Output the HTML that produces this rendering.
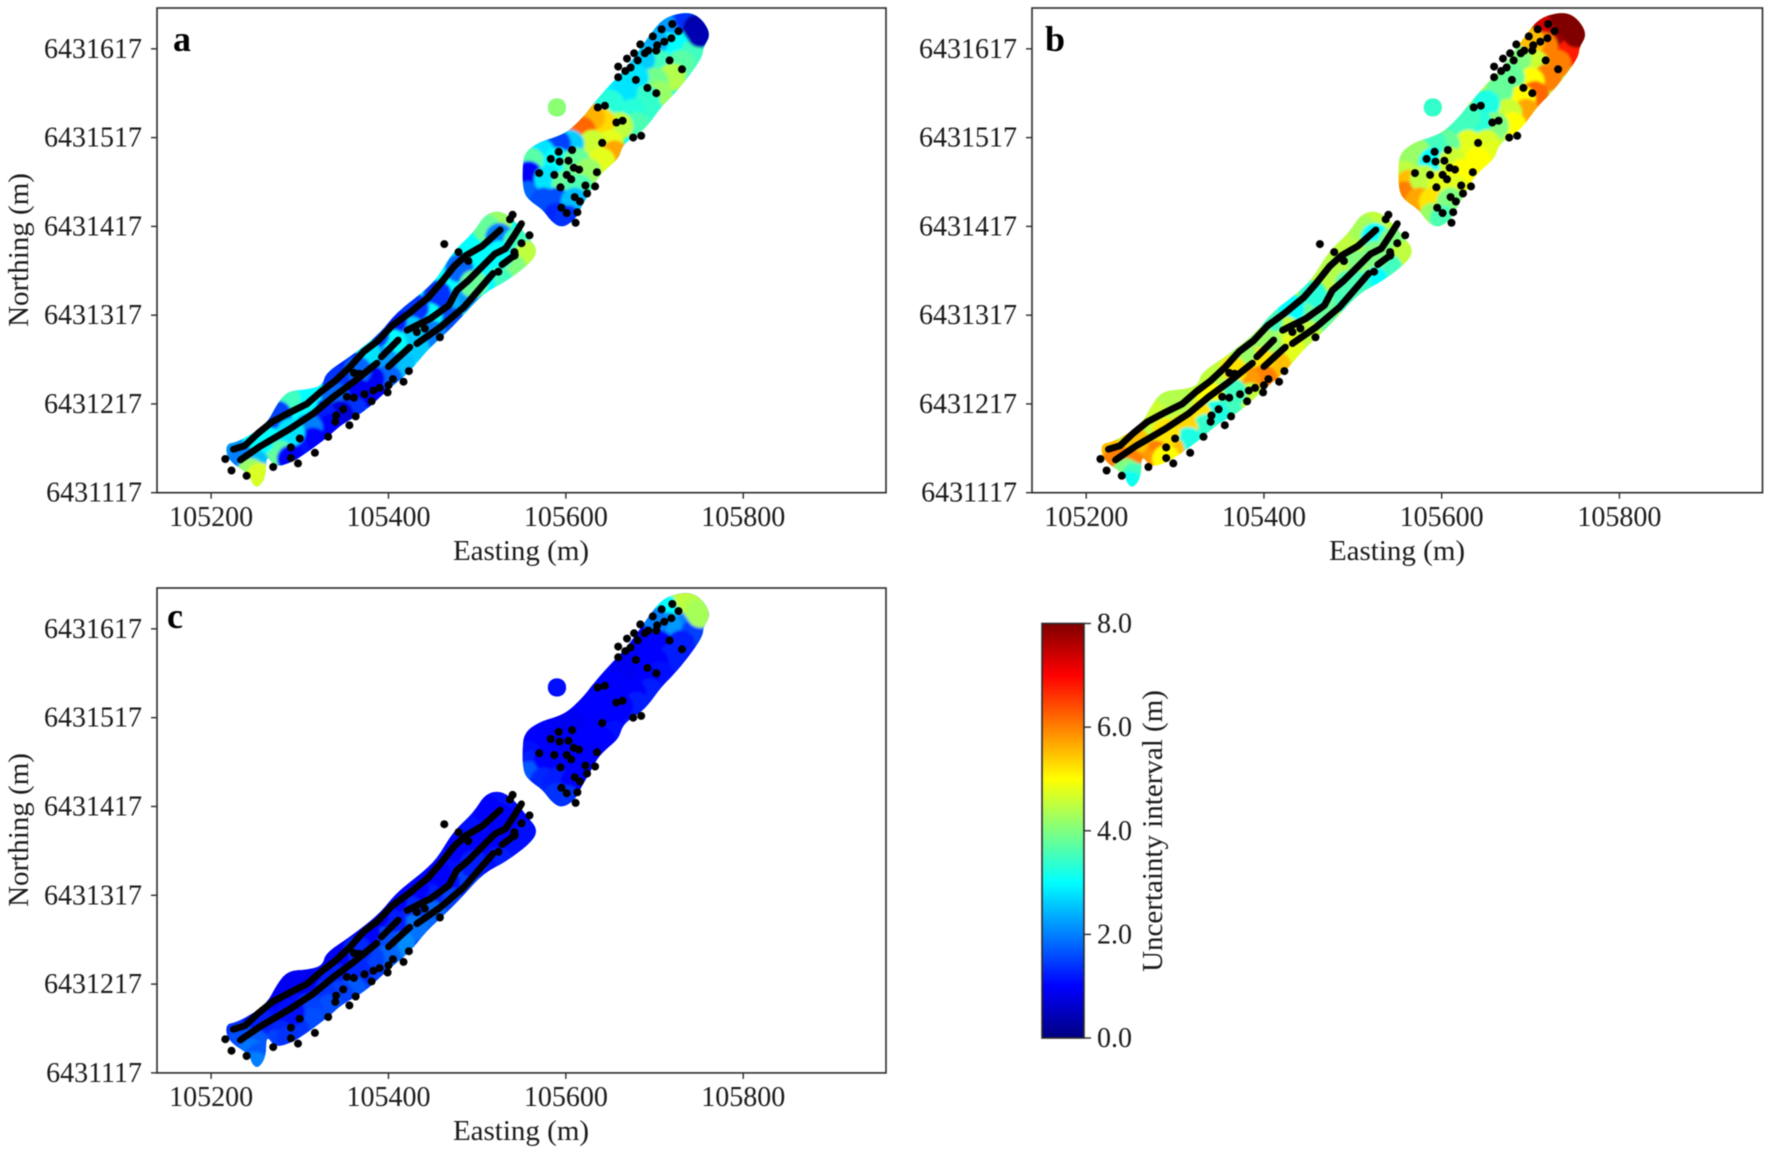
<!DOCTYPE html>
<html lang="en">
<head>
<meta charset="utf-8">
<title>Uncertainty interval maps</title>
<style>
html,body{margin:0;padding:0;background:#fff;width:1770px;height:1154px;overflow:hidden}
svg{display:block;filter:blur(0.6px)}
text{font-family:"Liberation Serif",serif;fill:#1a1a1a;font-size:28px}
</style>
</head>
<body>
<svg id="figure" xmlns="http://www.w3.org/2000/svg" width="1770" height="1154" viewBox="0 0 1770 1154">
<defs>
<filter id="soft" x="-5%" y="-5%" width="110%" height="110%"><feGaussianBlur stdDeviation="1.3"/></filter>
<linearGradient id="jetGradient" x1="0" y1="1" x2="0" y2="0"></linearGradient>
</defs>
</svg>
<script>
// Axis domains and tick labels
const xDomain = [105139, 105961];
const yDomain = [6431117, 6431663];
const xTicks = [105200, 105400, 105600, 105800];
const yTicks = [6431117, 6431217, 6431317, 6431417, 6431517, 6431617];
const colorbarTicks = [0, 2, 4, 6, 8];
const colorDomain = [0, 8];
const panelLetters = ['a', 'b', 'c'];
const baseValues = [3, 4.5, 1.1];

// Survey footprint outlines [easting, northing]
const southFootprint = [[105253,6431122],[105262,6431135],[105262,6431160],[105272,6431146],[105288,6431150],[105302,6431158],[105331,6431179],[105347,6431194],[105373,6431208],[105398,6431232],[105424,6431253],[105443,6431277],[105462,6431294],[105482,6431314],[105507,6431342],[105533,6431355],[105563,6431378],[105568,6431392],[105556,6431406],[105544,6431422],[105527,6431435],[105509,6431431],[105496,6431410],[105473,6431389],[105454,6431357],[105435,6431340],[105409,6431320],[105390,6431296],[105358,6431271],[105329,6431252],[105326,6431238],[105308,6431233],[105287,6431232],[105275,6431218],[105262,6431193],[105230,6431174],[105216,6431172],[105219,6431153],[105243,6431138],[105246,6431127]];
const northFootprint = [[105731,6431658],[105746,6431656],[105757,6431646],[105763,6431632],[105755,6431619],[105754,6431608],[105738,6431585],[105722,6431566],[105707,6431551],[105692,6431530],[105681,6431521],[105664,6431509],[105660,6431494],[105647,6431483],[105636,6431472],[105628,6431457],[105617,6431438],[105610,6431424],[105595,6431415],[105583,6431423],[105574,6431436],[105559,6431446],[105552,6431456],[105551,6431480],[105553,6431500],[105570,6431512],[105590,6431518],[105604,6431525],[105621,6431542],[105630,6431554],[105649,6431576],[105664,6431591],[105679,6431610],[105694,6431632],[105709,6431651]];
const islandFootprint = [[105590,6431562],[105598,6431559],[105601,6431551],[105598,6431543],[105590,6431540],[105582,6431543],[105579,6431551],[105582,6431559]];

// Uncertainty field samples
const fieldLocations = [
[105755,6431628],[105728,6431648],[105712,6431640],[105735,6431620],[105745,6431612],[105715,6431620],[105700,6431625],[105730,6431600],[105705,6431600],
[105685,6431605],[105720,6431585],[105700,6431580],[105678,6431585],[105705,6431565],[105690,6431560],[105665,6431570],[105695,6431545],[105675,6431545],[105650,6431555],
[105680,6431530],[105660,6431530],[105640,6431535],[105628,6431540],[105618,6431525],[105650,6431510],[105630,6431510],[105655,6431498],[105640,6431490],[105605,6431510],
[105590,6431510],[105572,6431500],[105560,6431490],[105590,6431490],[105612,6431490],[105625,6431478],[105558,6431475],[105563,6431465],[105558,6431452],[105580,6431470],
[105600,6431465],[105615,6431460],[105575,6431445],[105590,6431445],[105610,6431445],[105590,6431428],[105602,6431425],[105590,6431551],
[105525,6431425],[105510,6431415],[105525,6431405],[105545,6431400],[105558,6431385],[105540,6431370],[105525,6431385],[105500,6431375],[105525,6431355],[105505,6431350],
[105480,6431370],[105490,6431335],[105496,6431352],[105465,6431330],[105455,6431340],[105470,6431310],[105445,6431315],[105430,6431325],[105450,6431295],[105425,6431300],
[105405,6431310],[105430,6431280],[105405,6431285],[105385,6431295],[105415,6431260],[105395,6431265],[105375,6431275],[105355,6431262],[105400,6431245],[105380,6431245],
[105365,6431255],[105340,6431245],[105385,6431225],[105365,6431230],[105340,6431225],[105360,6431210],[105345,6431205],[105325,6431205],[105335,6431190],[105310,6431190],
[105315,6431175],[105295,6431165],[105305,6431222],[105285,6431222],[105275,6431205],[105290,6431185],[105278,6431160],[105270,6431150],[105290,6431155],[105255,6431175],
[105225,6431165],[105235,6431155],[105250,6431150],[105245,6431140],[105255,6431135],[105250,6431125],
[105738,6431652],[105748,6431640],[105752,6431634]
];
const uncertaintyA = [
1.2,1.6,2.2,3,3.5,3,2.4,3.7,3.5,
2.6,4.4,3.9,2.8,4.2,3.4,2.8,3.4,3.3,3.3,
3.6,4.5,5.3,5.6,6.2,4.8,4.6,5.7,4.8,2.6,
1.5,2.8,3.7,3,3.8,4.2,1,0.9,1.8,2.8,
3.8,3.6,1.6,1.6,2.5,1.3,1.4,4.1,
4.2,3.8,2,3.5,4.5,4,3,3,3.5,3,
1.8,2.2,3.8,2.4,1.4,1.6,3,1.4,2,2.6,
1.2,2.6,3,1.5,2.5,2.2,2.8,1.2,1.8,0.9,
1.8,1.4,1,0.9,1.8,1.4,0.7,1.2,1,2,
1,1.1,3,3.5,1.5,2.8,3.7,3.8,1,3,
2.2,2,2.5,4.2,4.7,4.7,
1.4,0.3,0.4
];
const uncertaintyB = [
8,8,7.4,7.8,6.8,6,5.5,6,4.6,
4,6,5,3.8,6.2,5,3.8,5.7,4.6,3.2,
5,4,3.3,3.5,3.5,4.7,4.8,4.8,5,3.8,
3.5,4.2,4.2,3,4.6,5,4.5,5.5,6,4.5,
4.8,4.8,5.7,5.2,4,4.2,3.6,3.4,
4.5,4.3,3,4,4.5,3.5,4,4,3,3.4,
4.4,3.5,3.6,3.8,3.3,3.8,3.8,3,4.5,4.5,
3.5,4.8,4.2,4.2,5.5,5.2,4.2,4.5,6,5.8,
5.2,4.5,4.5,3.5,5,3.5,3.2,5.2,3.4,5.3,
3.2,5.5,4.4,4.4,4.6,5.2,6,5.8,5,5.5,
5.5,6,6,4,3.5,3.1,
8,8,8
];
const uncertaintyC = [
3.2,4.5,3,2,1.5,2.2,2,1.2,1,
1,1.2,1,1,1.1,1,0.9,1.2,1,1,
1.2,1,1,1,1,1,1,1.1,1,0.9,
0.9,1,1,0.9,1,1,1.1,1.2,1.7,1,
1,1,1.3,1.2,1,1.4,1.4,1.1,
1.1,1,1,1,1.1,1.1,1,1,1.2,1.1,
1,1.5,1.2,1.1,1,1.5,1.2,1,1.8,1.3,
1,1.9,1.2,0.9,2.1,1.6,1,0.9,1.8,1.5,
1.3,0.9,1.5,1.3,1.2,1.7,1.5,1.4,1.6,1.5,
1.6,1.4,0.9,0.9,0.9,1.1,1.3,1.5,1.4,1.2,
1.4,1.6,1.7,1.9,1.7,2,
4.5,4.4,4.3
];

// Dense survey tracks [easting, northing]
const trackUpper = [[105225,6431166],[105238,6431170],[105253,6431184],[105269,6431197],[105288,6431207],[105308,6431217],[105324,6431231],[105340,6431243],[105356,6431258],[105372,6431276],[105388,6431288],[105404,6431305],[105423,6431319],[105445,6431337],[105458,6431352],[105474,6431372],[105487,6431384],[105506,6431395],[105526,6431413]];
const trackMiddleLower = [[105233,6431154],[105255,6431169],[105289,6431189],[105315,6431206],[105338,6431225],[105361,6431242],[105387,6431263]];
const trackMiddleCentre = [[105392,6431270],[105411,6431289]];
const trackMiddleUpper = [[105421,6431300],[105447,6431313],[105468,6431328],[105477,6431345],[105490,6431356],[105520,6431386],[105532,6431392],[105542,6431407],[105550,6431420]];
const trackLowerA = [[105400,6431259],[105424,6431281]];
const trackLowerB = [[105432,6431285],[105458,6431303],[105485,6431326],[105511,6431356],[105518,6431364]];
const trackLowerC = [[105528,6431374],[105543,6431385]];
const surveyTracks = [trackUpper, trackMiddleLower, trackMiddleCentre, trackMiddleUpper, trackLowerA, trackLowerB, trackLowerC];

// Individual survey points [easting, northing]
const surveyPoints = [
[105720,6431645],[105708,6431639],[105727,6431637],[105698,6431631],[105719,6431629],[105711,6431625],[105703,6431621],[105684,6431622],[105702,6431615],[105693,6431615],
[105689,6431612],[105677,6431612],[105681,6431604],[105669,6431606],[105717,6431604],[105731,6431594],[105659,6431597],[105673,6431596],[105667,6431592],[105659,6431585],
[105679,6431582],[105692,6431573],[105702,6431567],[105644,6431553],[105636,6431551],[105664,6431536],[105657,6431534],[105685,6431519],[105676,6431517],[105641,6431511],
[105607,6431503],[105592,6431501],[105583,6431493],[105593,6431490],[105603,6431491],[105609,6431483],[105615,6431481],[105635,6431478],[105570,6431477],[105587,6431475],
[105601,6431475],[105606,6431470],[105622,6431463],[105633,6431462],[105594,6431461],[105624,6431454],[105610,6431450],[105616,6431445],[105595,6431438],[105601,6431432],
[105613,6431433],[105611,6431421],
[105540,6431430],[105537,6431425],[105559,6431407],[105463,6431397],[105479,6431388],[105490,6431378],[105542,6431384],[105542,6431388],[105550,6431398],[105524,6431366],
[105216,6431155],[105223,6431142],[105240,6431136],[105270,6431146],[105298,6431150],[105290,6431156],[105317,6431162],[105290,6431168],[105300,6431178],[105332,6431180],
[105356,6431193],[105363,6431203],[105340,6431197],[105341,6431204],[105349,6431211],[105381,6431220],[105353,6431225],[105361,6431224],[105373,6431228],[105383,6431232],
[105390,6431235],[105399,6431230],[105400,6431238],[105417,6431242],[105405,6431245],[105423,6431254],[105361,6431252],[105367,6431251],[105432,6431298],[105441,6431302],
[105458,6431292]
];

const svg = document.getElementById('figure');
const NS = 'http://www.w3.org/2000/svg';
function make(tag, attrs, parent) {
  const node = document.createElementNS(NS, tag);
  for (const key in attrs) node.setAttribute(key, attrs[key]);
  parent.appendChild(node);
  return node;
}
function jet(t) {
  const c = v => Math.round(255 * Math.max(0, Math.min(1, v)));
  return 'rgb(' + c(1.5 - Math.abs(4 * t - 3)) + ',' + c(1.5 - Math.abs(4 * t - 2)) + ',' + c(1.5 - Math.abs(4 * t - 1)) + ')';
}
function colorOf(v) {
  return jet((v - colorDomain[0]) / (colorDomain[1] - colorDomain[0]));
}

const gradient = document.getElementById('jetGradient');
for (let i = 0; i <= 32; i++) {
  make('stop', { offset: i / 32, 'stop-color': jet(i / 32) }, gradient);
}

const panels = [
  { id: 'a', left: 157, top: 8, width: 729, height: 484.7, values: uncertaintyA, letterX: 173, letterY: 51, tickBase: 526, labelY: 560, labelX: 521, northing: true },
  { id: 'b', left: 1032, top: 8, width: 730.5, height: 484.7, values: uncertaintyB, letterX: 1045, letterY: 51, tickBase: 526, labelY: 560, labelX: 1397, northing: false },
  { id: 'c', left: 157, top: 588, width: 729, height: 484.9, values: uncertaintyC, letterX: 167, letterY: 628, tickBase: 1106, labelY: 1140, labelX: 521, northing: true }
];

panels.forEach(function (p, index) {
  const xScale = e => p.left + (e - xDomain[0]) / (xDomain[1] - xDomain[0]) * p.width;
  const yScale = n => p.top + p.height - (n - yDomain[0]) / (yDomain[1] - yDomain[0]) * p.height;
  const toPoints = list => list.map(q => xScale(q[0]).toFixed(1) + ',' + yScale(q[1]).toFixed(1)).join(' ');
  // closed smooth outline running through the midpoints of the footprint edges
  function smoothOutline(list) {
    const px = list.map(q => [xScale(q[0]), yScale(q[1])]);
    const mid = (u, v) => [(u[0] + v[0]) / 2, (u[1] + v[1]) / 2];
    const start = mid(px[px.length - 1], px[0]);
    let d = 'M' + start[0].toFixed(1) + ' ' + start[1].toFixed(1);
    px.forEach(function (pt, i) {
      const m = mid(pt, px[(i + 1) % px.length]);
      d += 'Q' + pt[0].toFixed(1) + ' ' + pt[1].toFixed(1) + ' ' + m[0].toFixed(1) + ' ' + m[1].toFixed(1);
    });
    return d + 'Z';
  }

  const panel = make('g', {}, svg);
  
  

  const frameBg = make('rect', { x: p.left, y: p.top, width: p.width, height: p.height, fill: '#fff' }, panel);
  
  

  const defs = svg.querySelector('defs');
  const clip = make('clipPath', { id: 'footprint-' + p.id }, defs);
  [southFootprint, northFootprint, islandFootprint].forEach(function (shape) {
    make('path', { d: smoothOutline(shape) }, clip);
  });

  const field = make('g', { 'clip-path': 'url(#footprint-' + p.id + ')' }, panel);
  
  
  const base = make('rect', { x: p.left, y: p.top, width: p.width, height: p.height, fill: colorOf(baseValues[index]) }, field);
  
  
  const cells = make('g', { filter: 'url(#soft)' }, field);
  fieldLocations.forEach(function (loc, i) {
    const cell = make('circle', { cx: xScale(loc[0]).toFixed(1), cy: yScale(loc[1]).toFixed(1), r: 14, fill: colorOf(p.values[i]) }, cells);
    
    
  });

  surveyTracks.forEach(function (track) {
    const line = make('polyline', { points: toPoints(track), fill: 'none', stroke: '#000', 'stroke-width': 6.8, 'stroke-linecap': 'round', 'stroke-linejoin': 'round' }, panel);
    
    
  });
  surveyPoints.forEach(function (pt) {
    const dot = make('circle', { cx: xScale(pt[0]).toFixed(1), cy: yScale(pt[1]).toFixed(1), r: 4, fill: '#000' }, panel);
    
    
  });

  const frame = make('rect', { x: p.left, y: p.top, width: p.width, height: p.height, fill: 'none', stroke: '#2b2b2b', 'stroke-width': 1.6 }, panel);
  
  

  xTicks.forEach(function (v) {
    const x = xScale(v);
    const tick = make('line', { x1: x, x2: x, y1: p.top + p.height, y2: p.top + p.height + 6, stroke: '#2b2b2b', 'stroke-width': 1.4 }, panel);
    
    
    const label = make('text', { x: x, y: p.tickBase, 'text-anchor': 'middle' }, panel);
    label.textContent = v;
    
    
  });
  yTicks.forEach(function (v) {
    const y = yScale(v);
    const tick = make('line', { x1: p.left - 6, x2: p.left, y1: y, y2: y, stroke: '#2b2b2b', 'stroke-width': 1.4 }, panel);
    
    
    const label = make('text', { x: p.left - 15, y: y + 9, 'text-anchor': 'end' }, panel);
    label.textContent = v;
    
    
  });

  const xTitle = make('text', { x: p.labelX, y: p.labelY, 'text-anchor': 'middle', style: 'font-size:29px' }, panel);
  xTitle.textContent = 'Easting (m)';
  
  

  if (p.northing) {
    const cy = p.top + 242;
    const yTitle = make('text', { x: 0, y: 0, 'text-anchor': 'middle', style: 'font-size:29px', transform: 'translate(28,' + cy + ') rotate(-90)' }, panel);
    yTitle.textContent = 'Northing (m)';
    
    
  }

  const letter = make('text', { x: p.letterX, y: p.letterY, 'font-weight': 'bold', style: 'font-size:36px;fill:#000' }, panel);
  letter.textContent = panelLetters[index];
  
  
});

// Colorbar
const cbar = { left: 1042, right: 1084, top: 623.5, bottom: 1038 };
const cbarScale = v => cbar.bottom - (v - colorDomain[0]) / (colorDomain[1] - colorDomain[0]) * (cbar.bottom - cbar.top);
const cbarGroup = make('g', {}, svg);


const cbarRect = make('rect', { x: cbar.left, y: cbar.top, width: cbar.right - cbar.left, height: cbar.bottom - cbar.top, fill: 'url(#jetGradient)', stroke: '#2b2b2b', 'stroke-width': 1.6 }, cbarGroup);


colorbarTicks.forEach(function (v) {
  const y = cbarScale(v);
  const tick = make('line', { x1: cbar.right, x2: cbar.right + 7, y1: y, y2: y, stroke: '#2b2b2b', 'stroke-width': 1.4 }, cbarGroup);
  
  
  const label = make('text', { x: 1097, y: y + 9 }, cbarGroup);
  label.textContent = v.toFixed(1);
  
  
});
const cbarTitle = make('text', { x: 0, y: 0, 'text-anchor': 'middle', style: 'font-size:29px', transform: 'translate(1162,831) rotate(-90)' }, cbarGroup);
cbarTitle.textContent = 'Uncertainty interval (m)';


</script>
</body>
</html>
